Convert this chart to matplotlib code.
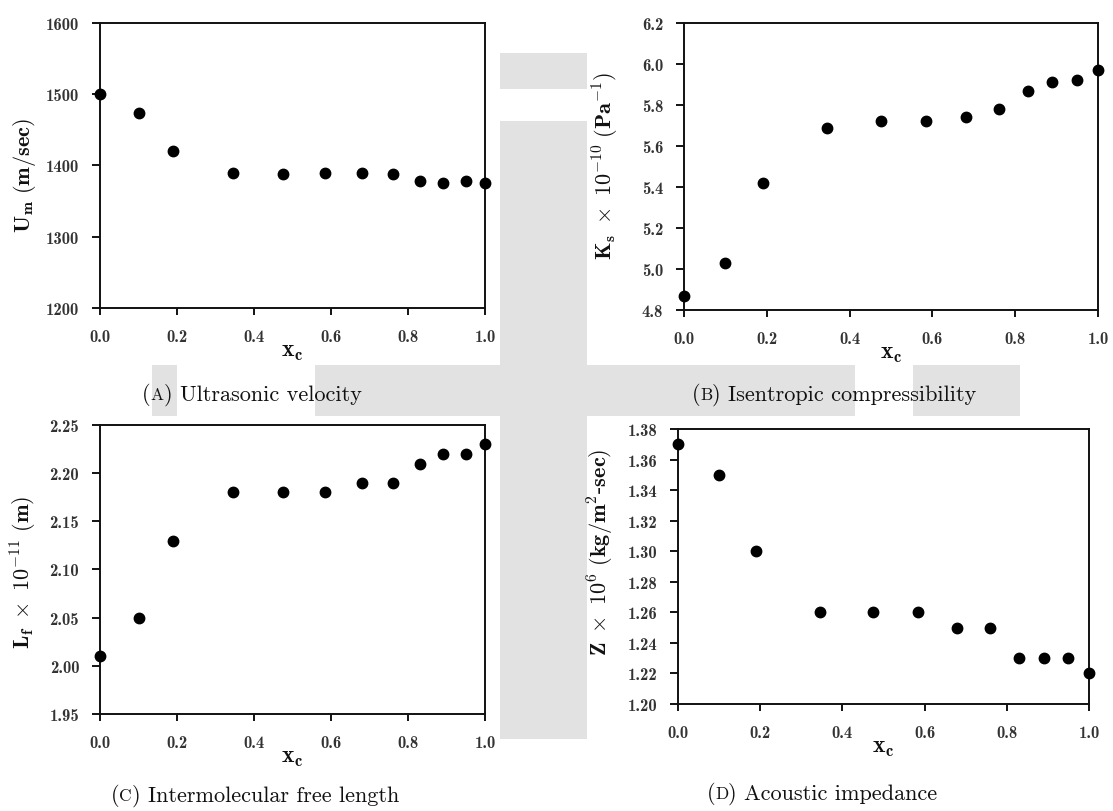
import matplotlib
matplotlib.use("Agg")
import matplotlib.pyplot as plt
from matplotlib.patches import Rectangle
from matplotlib.offsetbox import TextArea, HPacker, AnchoredOffsetbox
from matplotlib.ticker import FormatStrFormatter, MultipleLocator

plt.rcParams['mathtext.fontset'] = 'cm'

# mole fraction of the second component
x_c = [0.0, 0.1, 0.19, 0.345, 0.475, 0.585, 0.68, 0.76, 0.83, 0.89, 0.95, 1.0]

# measured / derived acoustic properties
velocity = [1500, 1474, 1421, 1389, 1388, 1390, 1390, 1388, 1378, 1376, 1378, 1375]
compressibility = [4.87, 5.03, 5.42, 5.69, 5.72, 5.72, 5.74, 5.78, 5.87, 5.91, 5.92, 5.97]
free_length = [2.01, 2.05, 2.13, 2.18, 2.18, 2.18, 2.19, 2.19, 2.21, 2.22, 2.22, 2.23]
impedance = [1.37, 1.35, 1.30, 1.26, 1.26, 1.26, 1.25, 1.25, 1.23, 1.23, 1.23, 1.22]

x_ticks = [0.0, 0.2, 0.4, 0.6, 0.8, 1.0]

W, H = 1113, 812
fig = plt.figure(figsize=(W / 100, H / 100), dpi=100)
fig.patch.set_facecolor('white')


def fx(px):
    return px / W


def fy(py):
    return 1 - py / H


# faint background stripes behind the panels
grey = '#e2e2e2'
for (x0, y0, x1, y1) in [(500, 54, 587, 90), (500, 122, 587, 740),
                         (315, 366, 855, 417), (913, 366, 1020, 417),
                         (152, 366, 177, 417)]:
    fig.patches.append(Rectangle((fx(x0), fy(y1)), fx(x1) - fx(x0), fy(y0) - fy(y1),
                                 transform=fig.transFigure, facecolor=grey,
                                 edgecolor='none', zorder=-5))

panels = [
    dict(y=velocity, rect=(100, 24, 485, 309), ylim=(1200, 1600), step=100, fmt='%d',
         ylabel=r'$\mathbf{U_m\ (m/sec)}$', ylab=(24, 176),
         cap=('A', ' Ultrasonic velocity'), cappos=(252, 395)),
    dict(y=compressibility, rect=(684, 24, 1098, 311), ylim=(4.8, 6.2), step=0.2, fmt='%.1f',
         ylabel=r'$\mathbf{K_s}\ \times\ \mathbf{10^{-10}\ (Pa^{-1})}$', ylab=(606, 166),
         cap=('B', ' Isentropic compressibility'), cappos=(834, 395)),
    dict(y=free_length, rect=(100, 426, 485, 715), ylim=(1.95, 2.25), step=0.05, fmt='%.2f',
         ylabel=r'$\mathbf{L_f}\ \times\ \mathbf{10^{-11}\ (m)}$', ylab=(24, 572),
         cap=('C', ' Intermolecular free length'), cappos=(255, 796)),
    dict(y=impedance, rect=(678, 430, 1089, 705), ylim=(1.20, 1.38), step=0.02, fmt='%.2f',
         ylabel=r'$\mathbf{Z}\ \times\ \mathbf{10^{6}\ (kg/m^{2}}$-$\mathbf{sec)}$',
         ylab=(601, 552), cap=('D', ' Acoustic impedance'), cappos=(822, 794)),
]

for p in panels:
    l, t, r, b = p['rect']
    ax = fig.add_axes([fx(l), fy(b), fx(r) - fx(l), fy(t) - fy(b)])
    ax.set_facecolor('white')
    ax.plot(x_c, p['y'], 'o', color='black', markersize=7.5, clip_on=False, zorder=5)
    ax.set_xlim(0, 1)
    ax.set_ylim(*p['ylim'])
    ax.set_xticks(x_ticks)
    ax.xaxis.set_major_formatter(FormatStrFormatter('%.1f'))
    ax.yaxis.set_major_locator(MultipleLocator(p['step']))
    ax.yaxis.set_major_formatter(FormatStrFormatter(p['fmt']))
    for s in ax.spines.values():
        s.set_linewidth(1.4)
        s.set_color('#111111')
    ax.tick_params(axis='x', direction='out', length=5, width=1.3, pad=10,
                   top=False, labelsize=12)
    ax.tick_params(axis='y', direction='out', length=6, width=1.3, pad=9,
                   right=False, labelsize=12)
    for lab in ax.get_xticklabels() + ax.get_yticklabels():
        lab.set_family('cmb10')
        lab.set_color('#333333')

    fig.text(fx(p['ylab'][0]), fy(p['ylab'][1]), p['ylabel'], rotation=90,
             ha='center', va='center', fontsize=16, color='#111111')
    fig.text(fx((l + r) / 2), fy(b + 42), r'$\mathbf{x_c}$',
             ha='center', va='center', fontsize=17, color='#111111')

    letter, rest = p['cap']
    props = dict(family='cmr10', size=16, color='#111111')
    small = dict(family='cmr10', size=12.5, color='#111111')
    box = HPacker(children=[TextArea('(', textprops=props),
                            TextArea(letter, textprops=small),
                            TextArea(')' + rest, textprops=props)],
                  align='baseline', pad=0, sep=0)
    anchored = AnchoredOffsetbox(loc='center', child=box, frameon=False, pad=0,
                                 borderpad=0,
                                 bbox_to_anchor=(fx(p['cappos'][0]), fy(p['cappos'][1])),
                                 bbox_transform=fig.transFigure)
    fig.add_artist(anchored)

fig.savefig('out.png', dpi=100, facecolor='white')
